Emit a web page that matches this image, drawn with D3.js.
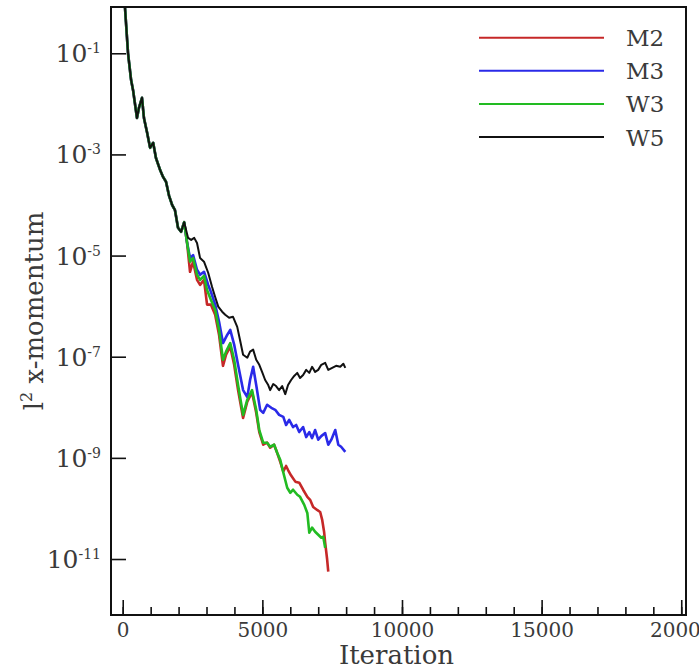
<!DOCTYPE html>
<html lang="en">
<head>
<meta charset="utf-8">
<title>Residual history</title>
<script src="https://d3js.org/d3.v7.min.js"></script>
<style>
  body { margin: 0; background: #fff; }
  text { font-family: "DejaVu Serif", serif; fill: #3a3a3a; }
</style>
</head>
<body>
<div id="chart"></div>
<script>
// [iteration, log10 of l2 x-momentum residual]
const common = [[0, 0.45], [80, -0.09], [190, -1.0], [300, -1.53], [370, -1.73], [510, -2.28],
  [580, -2.08], [690, -1.88], [760, -2.28], [870, -2.56], [980, -2.87], [1090, -2.77],
  [1190, -3.07], [1340, -3.31], [1440, -3.44], [1550, -3.54], [1660, -3.82], [1770, -4.0],
  [1870, -4.10], [1980, -4.45], [2090, -4.53], [2200, -4.34]];

const m2Tail = [[2300, -4.73], [2410, -5.32], [2520, -5.12], [2660, -5.48], [2770, -5.58],
  [2910, -5.48], [3020, -5.97], [3160, -5.97], [3310, -6.17], [3450, -6.57], [3590, -7.18],
  [3700, -6.96], [3850, -6.80], [3990, -7.16], [4130, -7.66], [4310, -8.21], [4460, -7.89],
  [4630, -7.70], [4780, -8.11], [4890, -8.49], [5030, -8.74], [5170, -8.70], [5280, -8.80],
  [5420, -8.74], [5530, -8.90], [5640, -9.08], [5750, -9.27], [5850, -9.16], [5920, -9.24],
  [6030, -9.35], [6180, -9.47], [6320, -9.49], [6460, -9.63], [6610, -9.77], [6710, -9.83],
  [6820, -9.97], [6960, -10.03], [7070, -10.07], [7140, -10.22], [7210, -10.46], [7250, -10.68],
  [7320, -11.01], [7360, -11.25]];

const m3Tail = [[2300, -4.73], [2410, -5.05], [2520, -4.99], [2660, -5.28], [2770, -5.38],
  [2910, -5.32], [3060, -5.58], [3160, -5.72], [3310, -5.97], [3450, -6.31], [3590, -6.73],
  [3740, -6.57], [3850, -6.47], [3990, -6.76], [4130, -7.16], [4310, -7.66], [4460, -7.80],
  [4560, -7.46], [4670, -7.20], [4780, -7.56], [4920, -8.05], [5030, -8.11], [5170, -7.95],
  [5320, -8.01], [5460, -8.05], [5600, -8.15], [5750, -8.19], [5850, -8.35], [5960, -8.25],
  [6100, -8.39], [6210, -8.35], [6320, -8.49], [6460, -8.39], [6570, -8.59], [6680, -8.49],
  [6780, -8.61], [6890, -8.45], [7000, -8.64], [7110, -8.57], [7250, -8.51], [7360, -8.74],
  [7470, -8.64], [7610, -8.45], [7720, -8.74], [7820, -8.78], [7970, -8.88]];

const w3Tail = [[2300, -4.73], [2410, -5.12], [2520, -5.05], [2660, -5.38], [2770, -5.48],
  [2910, -5.40], [3020, -5.68], [3160, -5.88], [3310, -6.07], [3450, -6.47], [3590, -7.06],
  [3700, -6.90], [3850, -6.73], [3990, -7.06], [4130, -7.56], [4310, -8.15], [4460, -7.85],
  [4630, -7.66], [4780, -8.05], [4890, -8.45], [5030, -8.70], [5170, -8.70], [5280, -8.78],
  [5420, -8.74], [5530, -8.90], [5640, -9.04], [5750, -9.29], [5890, -9.59], [6000, -9.69],
  [6100, -9.63], [6250, -9.73], [6350, -9.77], [6500, -9.93], [6610, -10.09], [6680, -10.48],
  [6780, -10.38], [6890, -10.46], [7000, -10.52], [7110, -10.58], [7180, -10.56], [7250, -10.78]];

const w5Tail = [[2340, -4.65], [2450, -4.69], [2560, -4.65], [2660, -4.75], [2770, -5.05],
  [2910, -5.12], [3060, -5.34], [3200, -5.62], [3310, -5.82], [3420, -6.01], [3560, -6.11],
  [3670, -6.17], [3810, -6.23], [3950, -6.21], [4100, -6.41], [4200, -6.67], [4310, -6.96],
  [4460, -7.02], [4560, -6.90], [4670, -6.86], [4780, -7.06], [4890, -7.16], [4990, -7.30],
  [5100, -7.46], [5210, -7.56], [5280, -7.66], [5390, -7.54], [5490, -7.58], [5600, -7.66],
  [5710, -7.58], [5820, -7.74], [5920, -7.56], [6030, -7.46], [6140, -7.38], [6250, -7.32],
  [6350, -7.42], [6460, -7.36], [6570, -7.26], [6680, -7.32], [6780, -7.20], [6890, -7.30],
  [7000, -7.26], [7110, -7.16], [7250, -7.12], [7360, -7.26], [7500, -7.22], [7640, -7.18],
  [7790, -7.20], [7900, -7.14], [7970, -7.22]];

const seriesNames = ["M2", "M3", "W3", "W5"];
const seriesColors = ["#c62828", "#2a2ae8", "#22bb22", "#111111"];
const yTickExps = [-1, -3, -5, -7, -9, -11];
const xMajorTicks = [0, 5000, 10000, 15000, 20000];

const series = [m2Tail, m3Tail, w3Tail, w5Tail].map((tail, i) => ({
  name: seriesNames[i],
  color: seriesColors[i],
  values: common.concat(tail).map(d => ({ it: d[0], r: Math.pow(10, d[1]) }))
}));

// Chart dimensions
const margin = { top: 7, right: 13, bottom: 56, left: 111 };
const width = 699 - margin.left - margin.right;
const height = 671 - margin.top - margin.bottom;

const svg = d3.select("#chart")
  .append("svg")
  .attr("width", 699)
  .attr("height", 671);

const g = svg.append("g")
  .attr("transform", `translate(${margin.left},${margin.top})`);

// Scales
const x = d3.scaleLinear().domain([-420, 20170]).range([0, width]);
const y = d3.scaleLog().domain([Math.pow(10, -12.107), Math.pow(10, -0.085)]).range([height, 0]);

g.append("clipPath").attr("id", "plot-clip")
  .append("rect").attr("width", width).attr("height", height);

// Lines
const line = d3.line().x(d => x(d.it)).y(d => y(d.r));

g.append("g").attr("clip-path", "url(#plot-clip)")
  .selectAll("path")
  .data(series)
  .join("path")
  .attr("d", d => line(d.values))
  .attr("fill", "none")
  .attr("stroke", d => d.color)
  .attr("stroke-width", d => d.name === "W5" ? 2 : 2.6)
  .attr("stroke-linejoin", "round");

// Axes (ticks inward)
const xMinor = g.append("g")
  .attr("transform", `translate(0,${height})`)
  .call(d3.axisBottom(x).tickValues(d3.range(0, 20001, 1000)).tickSize(-8).tickFormat(""));

const xAxis = g.append("g")
  .attr("transform", `translate(0,${height})`)
  .call(d3.axisBottom(x).tickValues(xMajorTicks).tickSize(-15).tickFormat(d3.format("d")));

xAxis.selectAll("text").style("font-size", "20px").attr("fill", "#3a3a3a")
  .attr("dy", "0").attr("y", 22);

const yAxis = g.append("g")
  .call(d3.axisLeft(y).tickValues(yTickExps.map(e => Math.pow(10, e))).tickSize(-15).tickFormat(""));

[xMinor, xAxis, yAxis].forEach(a => {
  a.select(".domain").remove();
  a.selectAll("line").attr("stroke", "#111").attr("stroke-width", 1.6);
});

// y tick labels as 10^n
const yLabels = g.append("g").selectAll("text")
  .data(yTickExps)
  .join("text")
  .attr("x", -10)
  .attr("y", d => y(Math.pow(10, d)) + 9)
  .attr("text-anchor", "end");
yLabels.append("tspan").style("font-size", "25px").text("10");
yLabels.append("tspan").style("font-size", "14px").attr("dy", -9).text(d => d);

// Frame
g.append("rect")
  .attr("width", width)
  .attr("height", height)
  .attr("fill", "none")
  .attr("stroke", "#111")
  .attr("stroke-width", 2);

// Axis titles
svg.append("text")
  .attr("x", margin.left + width / 2 - 2)
  .attr("y", 664)
  .attr("text-anchor", "middle")
  .style("font-size", "26px")
  .text("Iteration");

const yTitle = svg.append("text")
  .attr("transform", "translate(43,311) rotate(-90)")
  .attr("text-anchor", "middle")
  .style("font-size", "26px");
yTitle.append("tspan").text("l");
yTitle.append("tspan").style("font-size", "16px").attr("dy", -11).text("2");
yTitle.append("tspan").attr("dy", 11).text(" x-momentum");

// Legend
const legend = svg.append("g").selectAll("g")
  .data(series)
  .join("g")
  .attr("transform", (d, i) => `translate(479,${37.7 + i * 33.1})`);

legend.append("line")
  .attr("x1", 0).attr("x2", 125)
  .attr("stroke", d => d.color)
  .attr("stroke-width", 2);

legend.append("text")
  .attr("x", 147)
  .attr("y", 8.5)
  .style("font-size", "23px")
  .text(d => d.name);
</script>
</body>
</html>
